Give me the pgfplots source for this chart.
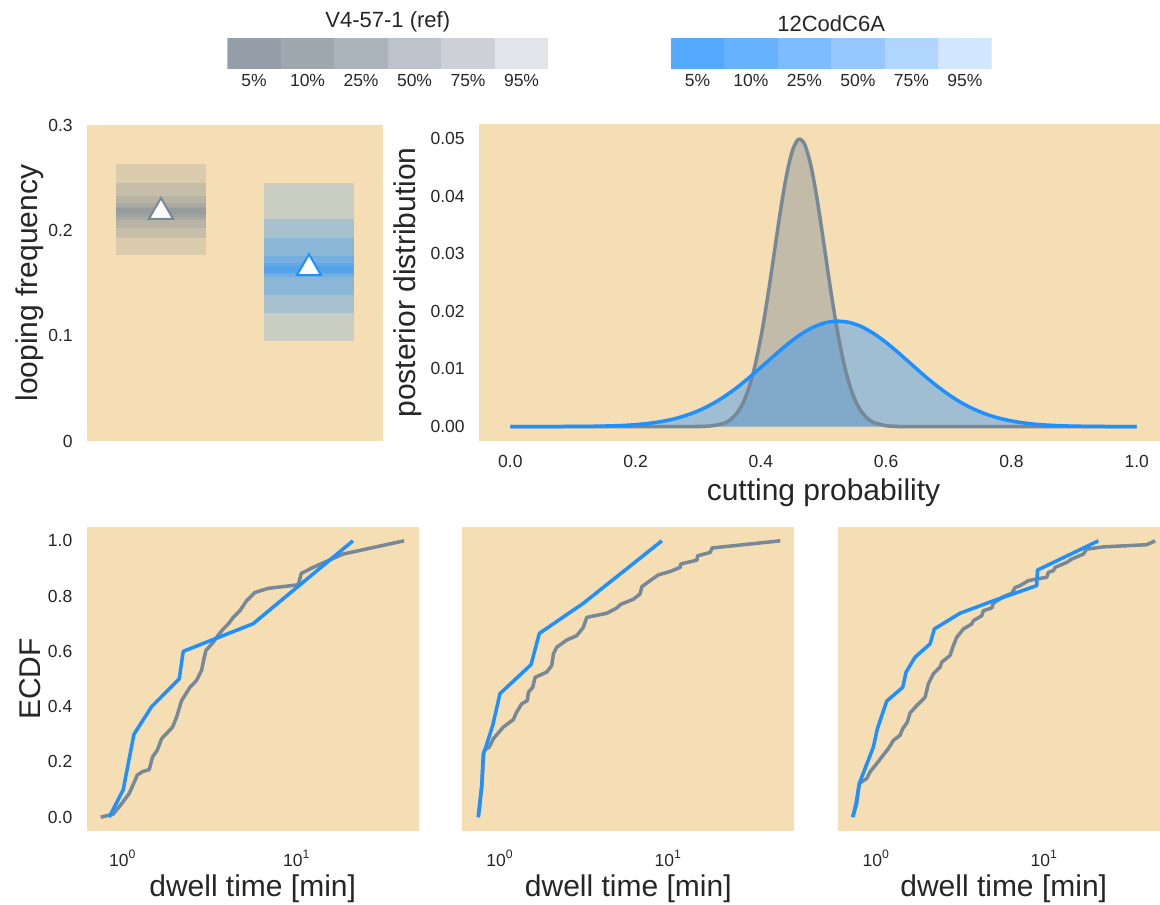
\documentclass[border=0pt]{standalone}
\usepackage{fontspec}
\setmainfont{Liberation Sans}
\usepackage{pgfplots}
\usepackage{pgfplotstable}
\pgfplotsset{compat=1.18}
\definecolor{wheat}{RGB}{245,222,179}
\definecolor{slate}{RGB}{119,136,153}
\definecolor{dodger}{RGB}{30,144,255}
\definecolor{txt}{RGB}{38,38,38}
\definecolor{ga}{HTML}{939EA8}\definecolor{gb}{HTML}{9EA8B1}\definecolor{gc}{HTML}{ABB3BB}
\definecolor{gd}{HTML}{BCC3CA}\definecolor{ge}{HTML}{CDD1D7}\definecolor{gf}{HTML}{E1E4E8}
\definecolor{ba}{HTML}{55AAFF}\definecolor{bb}{HTML}{66B2FF}\definecolor{bc}{HTML}{7CBCFF}
\definecolor{bd}{HTML}{96C8FF}\definecolor{be}{HTML}{B0D5FF}\definecolor{bf}{HTML}{D2E7FF}

\pgfplotstableread{
x y
0 0
0.28 0
0.30 0.00002
0.32 0.00011
0.34 0.00053
0.35 0.00109
0.36 0.00209
0.37 0.00378
0.38 0.00642
0.39 0.01027
0.40 0.01546
0.41 0.02189
0.42 0.02914
0.43 0.03652
0.44 0.04306
0.45 0.04775
0.46 0.04984
0.47 0.04894
0.48 0.04521
0.49 0.03929
0.50 0.03214
0.51 0.02473
0.52 0.01790
0.53 0.01218
0.54 0.00781
0.55 0.00471
0.56 0.00267
0.57 0.00143
0.58 0.00072
0.60 0.00015
0.62 0.00003
0.65 0
1 0
}\postgray

\pgfplotstableread{
x y
0 0
0.10 0.00002
0.14 0.00007
0.18 0.00020
0.20 0.00034
0.22 0.00055
0.24 0.00086
0.26 0.00130
0.28 0.00192
0.30 0.00274
0.32 0.00379
0.34 0.00509
0.36 0.00663
0.38 0.00838
0.40 0.01027
0.42 0.01220
0.44 0.01407
0.46 0.01573
0.48 0.01705
0.50 0.01793
0.52 0.01829
0.54 0.01810
0.56 0.01737
0.58 0.01616
0.60 0.01459
0.62 0.01277
0.64 0.01085
0.66 0.00893
0.68 0.00714
0.70 0.00553
0.72 0.00415
0.74 0.00303
0.76 0.00214
0.78 0.00147
0.80 0.00098
0.82 0.00063
0.84 0.00039
0.86 0.00024
0.88 0.00014
0.90 0.00008
0.94 0.00002
1 0
}\postblue

\pgfplotstableread{
x y
0.747 0.0
0.882 0.011
0.986 0.049
1.09 0.086
1.212 0.152
1.30 0.165
1.419 0.172
1.484 0.218
1.578 0.242
1.672 0.284
1.80 0.305
1.932 0.326
2.038 0.362
2.178 0.422
2.30 0.445
2.431 0.470
2.656 0.495
2.836 0.531
2.92 0.57
3.004 0.603
3.31 0.633
3.55 0.66
3.78 0.681
4.05 0.70
4.31 0.723
4.71 0.747
5.14 0.783
5.74 0.813
6.85 0.828
10.2 0.841
10.6 0.882
12.4 0.904
18.4 0.952
41.3 1.0
}\ecdfgA

\pgfplotstableread{
x y
0.837 0.0
1.007 0.1
1.08 0.2
1.16 0.3
1.465 0.4
2.11 0.5
2.225 0.6
5.61 0.7
21.0 1.0
}\ecdfbA

\pgfplotstableread{
x y
0.743 0.0
0.78 0.11
0.80 0.23
0.814 0.244
0.864 0.254
0.913 0.284
1.047 0.326
1.20 0.353
1.256 0.380
1.346 0.410
1.455 0.422
1.475 0.452
1.565 0.470
1.616 0.506
1.897 0.525
2.03 0.549
2.078 0.591
2.175 0.615
2.494 0.641
2.861 0.657
3.13 0.687
3.28 0.723
4.32 0.738
4.95 0.757
5.18 0.769
6.22 0.789
6.81 0.808
6.97 0.834
7.81 0.856
8.76 0.877
10.28 0.889
11.79 0.904
11.85 0.916
14.8 0.930
14.96 0.946
17.8 0.958
18.2 0.974
46.4 1.0
}\ecdfgB

\pgfplotstableread{
x y
0.743 0.0
0.778 0.111
0.796 0.230
0.814 0.244
0.905 0.332
1.0 0.447
1.53 0.552
1.714 0.665
3.13 0.774
9.17 1.0
}\ecdfbB

\pgfplotstableread{
x y
0.724 0.001
0.764 0.049
0.792 0.122
0.877 0.140
0.917 0.164
1.006 0.194
1.077 0.218
1.179 0.248
1.263 0.278
1.384 0.296
1.435 0.320
1.530 0.344
1.587 0.377
1.740 0.404
1.950 0.434
2.040 0.483
2.184 0.519
2.394 0.543
2.451 0.561
2.746 0.585
2.873 0.621
3.01 0.651
3.295 0.681
3.698 0.699
3.78 0.711
4.24 0.729
4.335 0.747
4.863 0.757
4.97 0.774
5.70 0.798
6.40 0.810
6.69 0.831
7.17 0.838
8.03 0.856
9.01 0.862
10.33 0.868
10.57 0.886
11.31 0.892
11.58 0.904
13.6 0.922
14.56 0.934
17.06 0.952
17.87 0.970
22.44 0.978
40.7 0.986
45.6 1.0
}\ecdfgC

\pgfplotstableread{
x y
0.724 0.0
0.757 0.049
0.792 0.122
0.960 0.254
1.014 0.320
1.153 0.420
1.436 0.470
1.503 0.525
1.70 0.579
2.087 0.627
2.214 0.681
3.149 0.738
4.97 0.783
9.01 0.838
9.09 0.894
20.96 1.0
}\ecdfbC

\begin{document}
\begin{tikzpicture}
\pgfplotsset{
  panel/.style={scale only axis, anchor=south west,
    axis background/.style={fill=wheat},
    axis line style={draw=none},
    major tick length=0pt, minor tick length=0pt,
    tick style={draw=none},
    scaled y ticks=false, scaled x ticks=false,
    ticklabel style={font=\fontsize{8.75}{10}\selectfont, text=txt, inner sep=0pt},
    yticklabel style={anchor=east, xshift=-7pt},
    xticklabel style={anchor=north, yshift=-7pt},
    label style={font=\fontsize{15}{18}\selectfont, text=txt},
  },
  cbar/.style={scale only axis, anchor=south west, width=160.5pt, height=15.65pt,
    xmin=0, xmax=6, ymin=0, ymax=1,
    axis line style={draw=none}, tick style={draw=none}, major tick length=0pt,
    ytick=\empty, xtick={0.5,1.5,2.5,3.5,4.5,5.5},
    xticklabels={5\%,10\%,25\%,50\%,75\%,95\%},
    xticklabel style={font=\fontsize{8.75}{10}\selectfont, text=txt, anchor=north, inner sep=0pt, yshift=-2.5pt},
    every axis title/.style={at={(0.5,1)}, anchor=south, inner sep=0pt, yshift=2.6pt,
      font=\fontsize{11}{13}\selectfont, text=txt},
  },
  ecdfg/.style={slate, line width=1.75pt, line join=round},
  ecdfb/.style={dodger, line width=1.75pt, line join=round},
  dwell/.style={xlabel={dwell time [min]},
    xlabel style={at={(axis description cs:0.5,-0.19)}, anchor=center},
    xticklabel style={yshift=-2.5pt}},
}

% ---- colour bars ----
\begin{axis}[cbar, at={(113.65pt,417.5pt)}, title={V4-57-1 (ref)}]
\addplot[fill=ga, draw=none] coordinates {(0,0)(1,0)(1,1)(0,1)};
\addplot[fill=gb, draw=none] coordinates {(1,0)(2,0)(2,1)(1,1)};
\addplot[fill=gc, draw=none] coordinates {(2,0)(3,0)(3,1)(2,1)};
\addplot[fill=gd, draw=none] coordinates {(3,0)(4,0)(4,1)(3,1)};
\addplot[fill=ge, draw=none] coordinates {(4,0)(5,0)(5,1)(4,1)};
\addplot[fill=gf, draw=none] coordinates {(5,0)(6,0)(6,1)(5,1)};
\end{axis}
\begin{axis}[cbar, at={(335.35pt,417.5pt)}, title={12CodC6A}]
\addplot[fill=ba, draw=none] coordinates {(0,0)(1,0)(1,1)(0,1)};
\addplot[fill=bb, draw=none] coordinates {(1,0)(2,0)(2,1)(1,1)};
\addplot[fill=bc, draw=none] coordinates {(2,0)(3,0)(3,1)(2,1)};
\addplot[fill=bd, draw=none] coordinates {(3,0)(4,0)(4,1)(3,1)};
\addplot[fill=be, draw=none] coordinates {(4,0)(5,0)(5,1)(4,1)};
\addplot[fill=bf, draw=none] coordinates {(5,0)(6,0)(6,1)(5,1)};
\end{axis}

% ---- looping frequency ----
\begin{axis}[panel, at={(43.5pt,231.5pt)}, width=148pt, height=158pt,
  xmin=-0.5, xmax=1.5, ymin=0, ymax=0.3, xtick=\empty,
  ytick={0,0.1,0.2,0.3}, yticklabels={0,0.1,0.2,0.3},
  ylabel={looping frequency},
  ylabel style={at={(axis description cs:-0.1926,0.5)}, anchor=center}]
\addplot[draw=none, fill=slate, fill opacity=0.2] coordinates {(-0.307,0.1769)(0.307,0.1769)(0.307,0.2633)(-0.307,0.2633)};
\addplot[draw=none, fill=slate, fill opacity=0.2] coordinates {(-0.307,0.1927)(0.307,0.1927)(0.307,0.2449)(-0.307,0.2449)};
\addplot[draw=none, fill=slate, fill opacity=0.2] coordinates {(-0.307,0.2025)(0.307,0.2025)(0.307,0.2329)(-0.307,0.2329)};
\addplot[draw=none, fill=slate, fill opacity=0.2] coordinates {(-0.307,0.2098)(0.307,0.2098)(0.307,0.2257)(-0.307,0.2257)};
\addplot[draw=none, fill=slate, fill opacity=0.2] coordinates {(-0.307,0.2130)(0.307,0.2130)(0.307,0.2225)(-0.307,0.2225)};
\addplot[draw=none, fill=slate, fill opacity=0.2] coordinates {(-0.307,0.2155)(0.307,0.2155)(0.307,0.2209)(-0.307,0.2209)};
\addplot[draw=none, fill=dodger, fill opacity=0.2] coordinates {(0.693,0.0952)(1.307,0.0952)(1.307,0.2452)(0.693,0.2452)};
\addplot[draw=none, fill=dodger, fill opacity=0.2] coordinates {(0.693,0.1212)(1.307,0.1212)(1.307,0.2105)(0.693,0.2105)};
\addplot[draw=none, fill=dodger, fill opacity=0.2] coordinates {(0.693,0.1386)(1.307,0.1386)(1.307,0.1927)(0.693,0.1927)};
\addplot[draw=none, fill=dodger, fill opacity=0.2] coordinates {(0.693,0.1560)(1.307,0.1560)(1.307,0.1756)(0.693,0.1756)};
\addplot[draw=none, fill=dodger, fill opacity=0.2] coordinates {(0.693,0.1585)(1.307,0.1585)(1.307,0.1687)(0.693,0.1687)};
\addplot[draw=none, fill=dodger, fill opacity=0.2] coordinates {(0.693,0.1598)(1.307,0.1598)(1.307,0.1661)(0.693,0.1661)};
\addplot[only marks, mark=triangle*, mark size=7pt, mark options={fill=white, draw=slate, line width=1pt}] coordinates {(0,0.2174)};
\addplot[only marks, mark=triangle*, mark size=7pt, mark options={fill=white, draw=dodger, line width=1pt}] coordinates {(1,0.1640)};
\end{axis}

% ---- posterior ----
\begin{axis}[panel, at={(239.5pt,231.5pt)}, width=344.5pt, height=158.5pt,
  xmin=-0.05, xmax=1.05, ymin=-0.0025, ymax=0.0525,
  xtick={0,0.2,0.4,0.6,0.8,1}, xticklabels={0.0,0.2,0.4,0.6,0.8,1.0},
  ytick={0,0.01,0.02,0.03,0.04,0.05}, yticklabels={0.00,0.01,0.02,0.03,0.04,0.05},
  xlabel={cutting probability}, ylabel={posterior distribution},
  xlabel style={at={(axis description cs:0.5,-0.1625)}, anchor=center},
  ylabel style={at={(axis description cs:-0.103,0.5)}, anchor=center}]
\addplot[draw=none, fill=slate, fill opacity=0.4, smooth] table {\postgray};
\addplot[draw=none, fill=dodger, fill opacity=0.4, smooth] table {\postblue};
\addplot[slate, line width=1.75pt, smooth] table {\postgray};
\addplot[dodger, line width=1.75pt, smooth] table {\postblue};
\end{axis}

% ---- ECDF panels ----
\begin{axis}[panel, dwell, xmode=log, at={(43.35pt,36.5pt)}, width=166pt, height=152pt,
  xmin=0.621, xmax=50.1, ymin=-0.05, ymax=1.05,
  xtick={1,10}, xticklabels={10\textsuperscript{0},10\textsuperscript{1}},
  ytick={0,0.2,0.4,0.6,0.8,1}, yticklabels={0.0,0.2,0.4,0.6,0.8,1.0},
  ylabel={ECDF},
  ylabel style={at={(axis description cs:-0.1708,0.5)}, anchor=center}]
\addplot[ecdfg] table {\ecdfgA};
\addplot[ecdfb] table {\ecdfbA};
\end{axis}
\begin{axis}[panel, dwell, xmode=log, at={(231.15pt,36.5pt)}, width=166pt, height=152pt,
  xmin=0.597, xmax=56.2, ymin=-0.05, ymax=1.05,
  xtick={1,10}, xticklabels={10\textsuperscript{0},10\textsuperscript{1}},
  ytick=\empty]
\addplot[ecdfg] table {\ecdfgB};
\addplot[ecdfb] table {\ecdfbB};
\end{axis}
\begin{axis}[panel, dwell, xmode=log, at={(418.85pt,36.5pt)}, width=166pt, height=152pt,
  xmin=0.589, xmax=55.7, ymin=-0.05, ymax=1.05,
  xtick={1,10}, xticklabels={10\textsuperscript{0},10\textsuperscript{1}},
  ytick=\empty]
\addplot[ecdfg] table {\ecdfgC};
\addplot[ecdfb] table {\ecdfbC};
\end{axis}

\pgfresetboundingbox
\path[use as bounding box] (0,0) rectangle (580pt,452pt);
\end{tikzpicture}
\end{document}
